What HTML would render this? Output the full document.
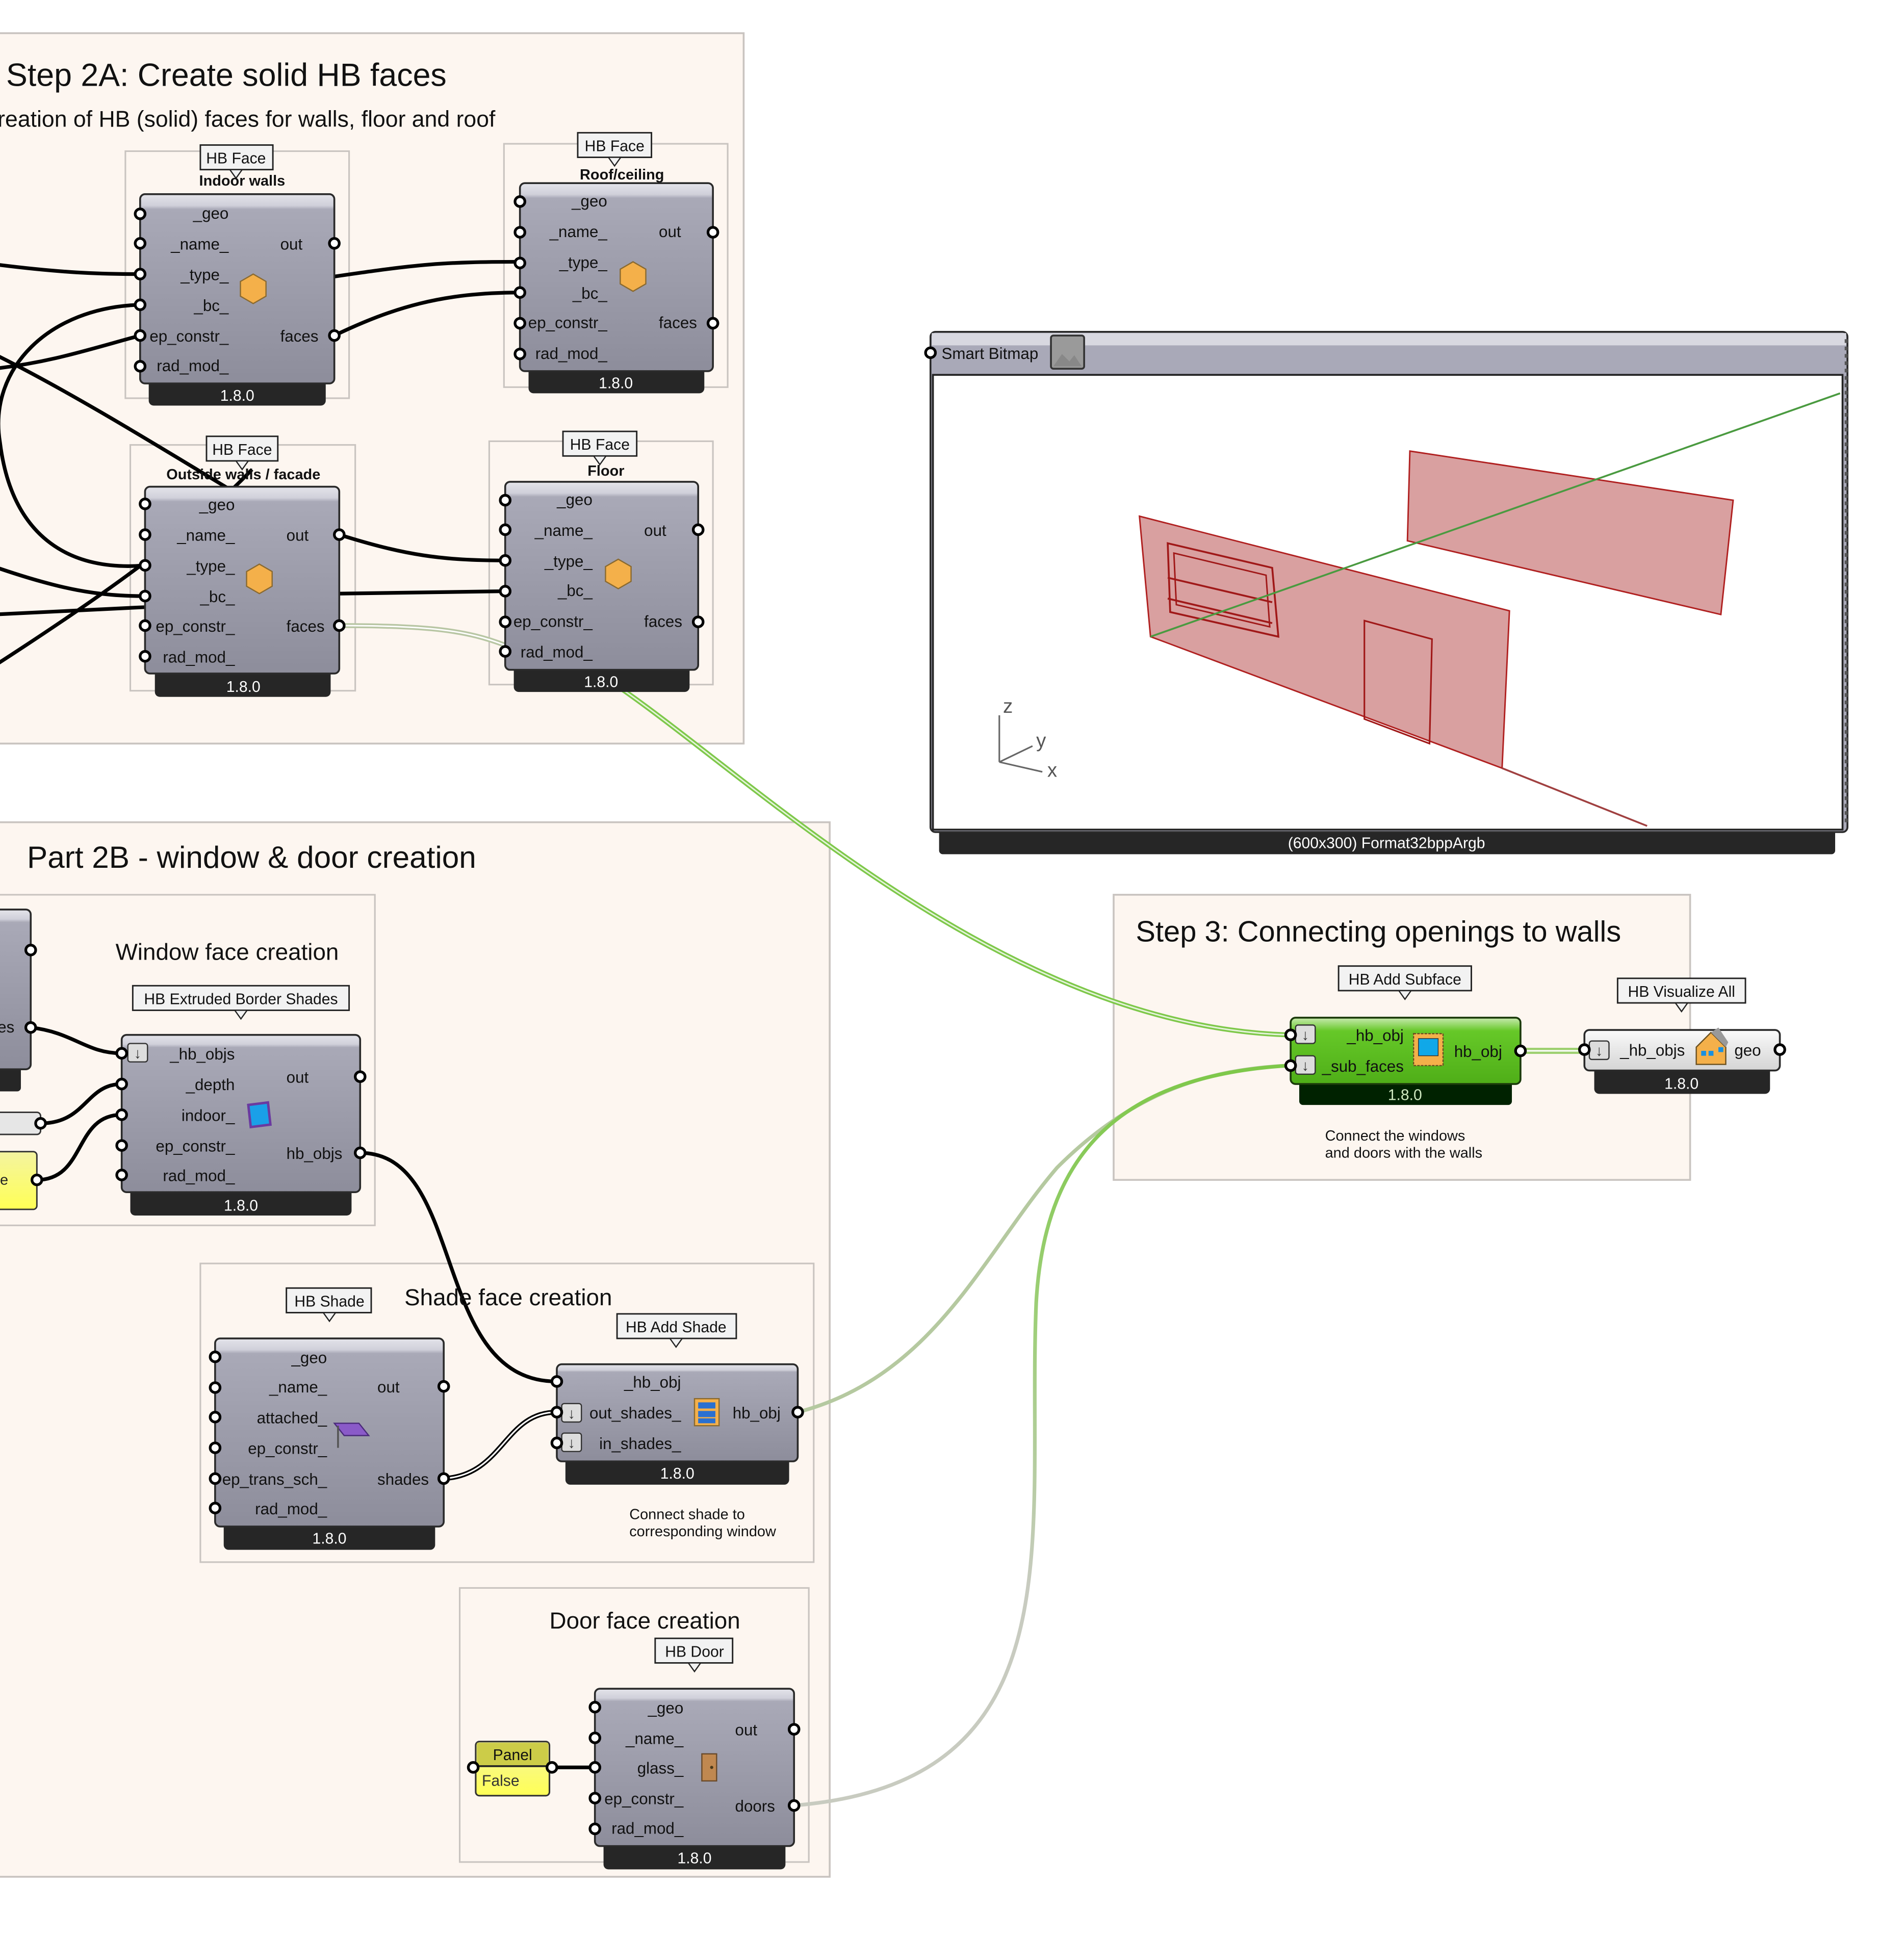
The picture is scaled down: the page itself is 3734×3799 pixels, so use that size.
<!DOCTYPE html>
<html><head><meta charset="utf-8">
<style>
html,body{margin:0;padding:0;background:#fff;}
svg{display:block;}
text{font-family:"Liberation Sans",sans-serif;}
.p{font-size:13px;fill:#111;}
.v{font-size:12.5px;fill:#fff;text-anchor:middle;}
.t{font-size:12.5px;fill:#111;text-anchor:middle;}
.b{fill:url(#ng);stroke:#2a2a2a;stroke-width:1.5;}
.bar{fill:#262626;}
.port{fill:#fff;stroke:#000;stroke-width:2.2;}
.grp{fill:#fdf6f0;stroke:#c9c4c0;stroke-width:1.5;}
.sub{fill:none;stroke:#c9c4c0;stroke-width:1.3;}
.lab{fill:#f2f2f2;stroke:#222;stroke-width:1.2;}
.w{fill:none;stroke:#000;stroke-width:3;}
</style></head><body>
<svg width="3734" height="3799" viewBox="0 0 1549 1576" preserveAspectRatio="none" xmlns="http://www.w3.org/2000/svg">
<defs>
<linearGradient id="ng" x1="0" y1="0" x2="0" y2="1">
<stop offset="0" stop-color="#e4e4ea"/><stop offset="0.06" stop-color="#d0d0da"/><stop offset="0.08" stop-color="#a9a9b7"/><stop offset="1" stop-color="#8d8d9b"/>
</linearGradient>
<linearGradient id="gg" x1="0" y1="0" x2="0" y2="1">
<stop offset="0" stop-color="#c8eab0"/><stop offset="0.2" stop-color="#66c828"/><stop offset="1" stop-color="#4fae18"/>
</linearGradient>
<linearGradient id="wg" x1="0" y1="0" x2="0" y2="1">
<stop offset="0" stop-color="#fafafa"/><stop offset="1" stop-color="#d4d4d4"/>
</linearGradient>
<linearGradient id="pg" x1="0" y1="0" x2="0" y2="1">
<stop offset="0" stop-color="#f4f4a0"/><stop offset="1" stop-color="#ffff55"/>
</linearGradient>
<linearGradient id="dw" gradientUnits="userSpaceOnUse" x1="0" y1="870" x2="0" y2="1470">
<stop offset="0" stop-color="#7ec84a"/><stop offset="0.35" stop-color="#9fcf7a"/><stop offset="0.7" stop-color="#c8cbc0"/><stop offset="1" stop-color="#c8cbc0"/>
</linearGradient>
<g id="hex"><polygon points="0,-12 10.4,-6 10.4,6 0,12 -10.4,6 -10.4,-6" fill="#f4b04a" stroke="#8a6a30" stroke-width="1"/></g>
</defs>
<rect width="1549" height="1576" fill="#fff"/>

<rect class="grp" x="-5" y="27" width="610" height="578"/>
<text x="5" y="70" font-size="26" fill="#111">Step 2A: Create solid HB faces</text>
<text x="-2" y="103" font-size="18.5" fill="#111">reation of HB (solid) faces for walls, floor and roof</text>

<rect class="grp" x="-5" y="669" width="680" height="858"/>
<text x="22" y="706" font-size="25" fill="#111">Part 2B - window &amp; door creation</text>

<rect class="grp" x="906" y="728" width="469" height="232"/>
<text x="924" y="766" font-size="24" fill="#111">Step 3: Connecting openings to walls</text>

<rect class="sub" x="102" y="123" width="182" height="201"/>
<rect class="sub" x="410" y="117" width="182" height="198"/>
<rect class="sub" x="106" y="362" width="183" height="200"/>
<rect class="sub" x="398" y="359" width="182" height="198"/>
<rect class="sub" x="-5" y="728" width="310" height="269"/>
<rect class="sub" x="163" y="1028" width="499" height="243"/>
<rect class="sub" x="374" y="1292" width="284" height="223"/>

<path d="M505,560 C620,640 820,835 1048,842" fill="none" stroke="#7ec84a" stroke-width="4"/>
<path d="M505,560 C620,640 820,835 1048,842" fill="none" stroke="#fff" stroke-width="1.2" opacity="0.8"/>
<path d="M276,509 C350,509 380,513 411,525" fill="none" stroke="#b8c6a4" stroke-width="4"/>
<path d="M276,509 C350,509 380,513 411,525" fill="none" stroke="#fff" stroke-width="1.2"/>
<path d="M649,1149 C760,1120 800,1020 860,950 C920,890 980,870 1048,867" fill="none" stroke="#b5c9a0" stroke-width="3"/>
<path d="M646,1469 C880,1450 835,1250 843,1060 C850,930 920,875 1048,867" fill="none" stroke="url(#dw)" stroke-width="3"/>
<path d="M1237,855 L1289,855" fill="none" stroke="#9ed070" stroke-width="5"/>
<path d="M1237,855 L1289,855" fill="none" stroke="#fff" stroke-width="1.2"/>

<path class="w" d="M-5,215 C50,222 80,223 114,223"/>
<path class="w" d="M114,248 C40,250 -10,300 0,360 C10,440 60,465 118,460"/>
<path class="w" d="M114,273 C70,285 40,295 -5,300"/>
<path class="w" d="M-5,288 C60,320 140,370 190,400"/>
<path class="w" d="M205,382 C150,440 60,500 -5,542"/>
<path class="w" d="M-5,461 C50,480 80,485 118,485"/>
<path class="w" d="M-5,500 L118,494"/>
<path class="w" d="M272,225 C340,215 360,213 423,213"/>
<path class="w" d="M272,273 C320,250 360,238 423,238"/>
<path class="w" d="M276,435 C330,452 360,456 411,456"/>
<path class="w" d="M276,483 L411,481"/>

<path class="w" d="M25,836 C60,840 70,857 99,857"/>
<path class="w" d="M33,914 C70,914 70,882 99,882"/>
<path class="w" d="M30,960 C70,960 60,907 99,907"/>
<path class="w" d="M293,938 C380,938 350,1124 453,1124"/>
<path d="M361,1203 C410,1200 410,1149 453,1149" fill="none" stroke="#000" stroke-width="4"/>
<path d="M361,1203 C410,1200 410,1149 453,1149" fill="none" stroke="#fff" stroke-width="1.3"/>
<path class="w" d="M449,1438 L484,1438"/>

<rect class="lab" x="163" y="118" width="59" height="20"/><polygon points="187,138 197,138 192,145" fill="#f2f2f2" stroke="#222"/>
<text class="t" x="192" y="133">HB Face</text>
<text x="197" y="151" font-size="12" font-weight="bold" text-anchor="middle" fill="#111">Indoor walls</text>
<rect class="bar" x="121" y="305" width="144" height="25" rx="4"/><text class="v" x="193" y="326">1.8.0</text>
<rect class="b" x="114" y="158" width="158" height="154" rx="4"/>
<g class="p" text-anchor="end"><text x="186" y="178">_geo</text><text x="186" y="203">_name_</text><text x="186" y="228">_type_</text><text x="186" y="253">_bc_</text><text x="186" y="278">ep_constr_</text><text x="186" y="302">rad_mod_</text></g>
<g class="p"><text x="228" y="203">out</text><text x="228" y="278">faces</text></g>
<use href="#hex" x="206" y="235"/>
<g class="port"><circle cx="114" cy="174" r="4"/><circle cx="114" cy="198" r="4"/><circle cx="114" cy="223" r="4"/><circle cx="114" cy="248" r="4"/><circle cx="114" cy="273" r="4"/><circle cx="114" cy="298" r="4"/><circle cx="272" cy="198" r="4"/><circle cx="272" cy="273" r="4"/></g>

<rect class="lab" x="470" y="108" width="60" height="20"/><polygon points="495,128 505,128 500,135" fill="#f2f2f2" stroke="#222"/>
<text class="t" x="500" y="123">HB Face</text>
<text x="506" y="146" font-size="12" font-weight="bold" text-anchor="middle" fill="#111">Roof/ceiling</text>
<rect class="bar" x="430" y="295" width="143" height="25" rx="4"/><text class="v" x="501" y="316">1.8.0</text>
<rect class="b" x="423" y="149" width="157" height="153" rx="4"/>
<g class="p" text-anchor="end"><text x="494" y="168">_geo</text><text x="494" y="193">_name_</text><text x="494" y="218">_type_</text><text x="494" y="243">_bc_</text><text x="494" y="267">ep_constr_</text><text x="494" y="292">rad_mod_</text></g>
<g class="p"><text x="536" y="193">out</text><text x="536" y="267">faces</text></g>
<use href="#hex" x="515" y="225"/>
<g class="port"><circle cx="423" cy="164" r="4"/><circle cx="423" cy="189" r="4"/><circle cx="423" cy="214" r="4"/><circle cx="423" cy="238" r="4"/><circle cx="423" cy="263" r="4"/><circle cx="423" cy="288" r="4"/><circle cx="580" cy="189" r="4"/><circle cx="580" cy="263" r="4"/></g>

<rect class="bar" x="126" y="541" width="143" height="26" rx="4"/><text class="v" x="198" y="563">1.8.0</text>
<rect class="b" x="118" y="396" width="158" height="152" rx="4"/>
<rect class="lab" x="168" y="355" width="58" height="20"/><polygon points="192,375 202,375 197,382" fill="#f2f2f2" stroke="#222"/>
<text class="t" x="197" y="370">HB Face</text>
<text x="198" y="390" font-size="12" font-weight="bold" text-anchor="middle" fill="#111">Outside walls / facade</text>
<g class="p" text-anchor="end"><text x="191" y="415">_geo</text><text x="191" y="440">_name_</text><text x="191" y="465">_type_</text><text x="191" y="490">_bc_</text><text x="191" y="514">ep_constr_</text><text x="191" y="539">rad_mod_</text></g>
<g class="p"><text x="233" y="440">out</text><text x="233" y="514">faces</text></g>
<use href="#hex" x="211" y="471"/>
<g class="port"><circle cx="118" cy="410" r="4"/><circle cx="118" cy="435" r="4"/><circle cx="118" cy="460" r="4"/><circle cx="118" cy="485" r="4"/><circle cx="118" cy="509" r="4"/><circle cx="118" cy="534" r="4"/><circle cx="276" cy="435" r="4"/><circle cx="276" cy="509" r="4"/></g>

<rect class="lab" x="458" y="351" width="60" height="20"/><polygon points="483,371 493,371 488,378" fill="#f2f2f2" stroke="#222"/>
<text class="t" x="488" y="366">HB Face</text>
<text x="493" y="387" font-size="12" font-weight="bold" text-anchor="middle" fill="#111">Floor</text>
<rect class="bar" x="418" y="538" width="143" height="25" rx="4"/><text class="v" x="489" y="559">1.8.0</text>
<rect class="b" x="411" y="392" width="157" height="153" rx="4"/>
<g class="p" text-anchor="end"><text x="482" y="411">_geo</text><text x="482" y="436">_name_</text><text x="482" y="461">_type_</text><text x="482" y="485">_bc_</text><text x="482" y="510">ep_constr_</text><text x="482" y="535">rad_mod_</text></g>
<g class="p"><text x="524" y="436">out</text><text x="524" y="510">faces</text></g>
<use href="#hex" x="503" y="467"/>
<g class="port"><circle cx="411" cy="407" r="4"/><circle cx="411" cy="431" r="4"/><circle cx="411" cy="456" r="4"/><circle cx="411" cy="481" r="4"/><circle cx="411" cy="506" r="4"/><circle cx="411" cy="530" r="4"/><circle cx="568" cy="431" r="4"/><circle cx="568" cy="506" r="4"/></g>

<rect x="764" y="670" width="729" height="25" rx="3" fill="#262626"/>
<text x="1128" y="690" font-size="12.5" fill="#fff" text-anchor="middle">(600x300) Format32bppArgb</text>
<rect x="757" y="270" width="746" height="407" rx="4" fill="#a9a9b8" stroke="#2a2a2a" stroke-width="1.5"/>
<rect x="758" y="271" width="744" height="10" fill="#d8d8e0"/>
<text x="766" y="292" font-size="13" fill="#111">Smart Bitmap</text>
<rect x="855" y="273" width="27" height="27" rx="2" fill="#9a9a9a" stroke="#333" stroke-width="1.5"/>
<polygon points="857,298 864,288 870,294 874,289 880,298" fill="#888"/>
<rect x="759" y="305" width="740" height="370" fill="#fff" stroke="#222" stroke-width="1.5"/>
<line x1="1502" y1="276" x2="1502" y2="672" stroke="#555" stroke-width="2.5" stroke-dasharray="3,3"/>
<circle class="port" cx="757" cy="287" r="4"/>
<polygon points="1147,367 1410,407 1400,500 1145,440" fill="#d9a0a0" stroke="#b02020" stroke-width="1.2"/>
<polygon points="927,420 1228,497 1222,625 936,518" fill="#d9a0a0" stroke="#b02020" stroke-width="1.2"/>
<polygon points="950,442 1035,462 1040,518 952,498" fill="none" stroke="#a01818" stroke-width="1.5"/>
<polygon points="955,450 1030,468 1033,510 957,492" fill="none" stroke="#a01818" stroke-width="1.2"/>
<line x1="950" y1="470" x2="1035" y2="490" stroke="#a01818" stroke-width="1.5"/>
<line x1="950" y1="487" x2="1035" y2="507" stroke="#a01818" stroke-width="1.5"/>
<polygon points="1110,505 1165,520 1163,605 1110,585" fill="none" stroke="#a01818" stroke-width="1.3"/>
<line x1="936" y1="518" x2="1497" y2="320" stroke="#4a9a40" stroke-width="1.5"/>
<line x1="1222" y1="625" x2="1340" y2="672" stroke="#a04040" stroke-width="1.5"/>
<g stroke="#666" stroke-width="1.3"><line x1="813" y1="620" x2="813" y2="582"/><line x1="813" y1="620" x2="840" y2="607"/><line x1="813" y1="620" x2="848" y2="628"/></g>
<g font-size="16" fill="#555"><text x="816" y="580">z</text><text x="843" y="608">y</text><text x="852" y="632">x</text></g>

<rect class="bar" x="-5" y="866" width="22" height="22" rx="3"/>
<rect class="b" x="-10" y="740" width="35" height="130" rx="4"/>
<text class="p" x="-2" y="840">es</text>
<circle class="port" cx="25" cy="773" r="4"/><circle class="port" cx="25" cy="836" r="4"/>
<rect x="-5" y="905" width="38" height="18" rx="3" fill="#e6e6e6" stroke="#333" stroke-width="1.2"/>
<circle class="port" cx="33" cy="914" r="4"/>
<rect x="-5" y="937" width="35" height="47" rx="3" fill="url(#pg)" stroke="#333" stroke-width="1.2"/>
<text x="0" y="964" font-size="12" fill="#222" font-family="Liberation Mono,monospace">e</text>
<circle class="port" cx="30" cy="960" r="4"/>

<text x="94" y="781" font-size="19" fill="#111">Window face creation</text>
<rect class="lab" x="108" y="802" width="176" height="20"/><polygon points="191,822 201,822 196,829" fill="#f2f2f2" stroke="#222"/>
<text class="t" x="196" y="817">HB Extruded Border Shades</text>
<rect class="bar" x="106" y="963" width="180" height="26" rx="4"/><text class="v" x="196" y="985">1.8.0</text>
<rect class="b" x="99" y="842" width="194" height="128" rx="4"/>
<rect x="104" y="849" width="16" height="15" rx="2" fill="#ddd" stroke="#333"/><text x="112" y="861" font-size="12" text-anchor="middle" fill="#333">↓</text>
<g class="p" text-anchor="end"><text x="191" y="862">_hb_objs</text><text x="191" y="887">_depth</text><text x="191" y="912">indoor_</text><text x="191" y="937">ep_constr_</text><text x="191" y="961">rad_mod_</text></g>
<g class="p"><text x="233" y="881">out</text><text x="233" y="943">hb_objs</text></g>
<polygon points="202,899 218,897 220,915 204,917" fill="#1aa0e8" stroke="#6a3aa0" stroke-width="2"/>
<g class="port"><circle cx="99" cy="857" r="4"/><circle cx="99" cy="882" r="4"/><circle cx="99" cy="907" r="4"/><circle cx="99" cy="932" r="4"/><circle cx="99" cy="956" r="4"/><circle cx="293" cy="876" r="4"/><circle cx="293" cy="938" r="4"/></g>

<text x="329" y="1062" font-size="19" fill="#111">Shade face creation</text>
<rect class="lab" x="233" y="1048" width="69" height="20"/><polygon points="263,1068 273,1068 268,1075" fill="#f2f2f2" stroke="#222"/>
<text class="t" x="268" y="1063">HB Shade</text>
<rect class="bar" x="182" y="1235" width="172" height="26" rx="4"/><text class="v" x="268" y="1256">1.8.0</text>
<rect class="b" x="175" y="1089" width="186" height="153" rx="4"/>
<g class="p" text-anchor="end"><text x="266" y="1109">_geo</text><text x="266" y="1133">_name_</text><text x="266" y="1158">attached_</text><text x="266" y="1183">ep_constr_</text><text x="266" y="1208">ep_trans_sch_</text><text x="266" y="1232">rad_mod_</text></g>
<g class="p"><text x="307" y="1133">out</text><text x="307" y="1208">shades</text></g>
<polygon points="272,1158 292,1158 300,1168 280,1168" fill="#8a5ac8" stroke="#4a2a7a"/><line x1="275" y1="1160" x2="275" y2="1178" stroke="#555" stroke-width="1.5"/>
<g class="port"><circle cx="175" cy="1104" r="4"/><circle cx="175" cy="1129" r="4"/><circle cx="175" cy="1153" r="4"/><circle cx="175" cy="1178" r="4"/><circle cx="175" cy="1203" r="4"/><circle cx="175" cy="1227" r="4"/><circle cx="361" cy="1128" r="4"/><circle cx="361" cy="1203" r="4"/></g>

<rect class="lab" x="502" y="1069" width="97" height="20"/><polygon points="545,1089 555,1089 550,1096" fill="#f2f2f2" stroke="#222"/>
<text class="t" x="550" y="1084">HB Add Shade</text>
<rect class="bar" x="460" y="1182" width="182" height="26" rx="4"/><text class="v" x="551" y="1203">1.8.0</text>
<rect class="b" x="453" y="1110" width="196" height="79" rx="4"/>
<rect x="457" y="1142" width="16" height="15" rx="2" fill="#ddd" stroke="#333"/><text x="465" y="1154" font-size="12" text-anchor="middle" fill="#333">↓</text>
<rect x="457" y="1166" width="16" height="15" rx="2" fill="#ddd" stroke="#333"/><text x="465" y="1178" font-size="12" text-anchor="middle" fill="#333">↓</text>
<g class="p" text-anchor="end"><text x="554" y="1129">_hb_obj</text><text x="554" y="1154">out_shades_</text><text x="554" y="1179">in_shades_</text></g>
<text class="p" x="596" y="1154">hb_obj</text>
<rect x="565" y="1138" width="20" height="22" fill="#f4b04a" stroke="#8a6a30"/><rect x="568" y="1141" width="14" height="5" fill="#2a70d0"/><rect x="568" y="1148" width="14" height="5" fill="#2a70d0"/><rect x="568" y="1154" width="14" height="4" fill="#2a70d0"/>
<g class="port"><circle cx="453" cy="1124" r="4"/><circle cx="453" cy="1149" r="4"/><circle cx="453" cy="1174" r="4"/><circle cx="649" cy="1149" r="4"/></g>
<text x="512" y="1236" font-size="12" fill="#111">Connect shade to</text>
<text x="512" y="1250" font-size="12" fill="#111">corresponding window</text>

<text x="447" y="1325" font-size="19" fill="#111">Door face creation</text>
<rect class="lab" x="533" y="1333" width="63" height="20"/><polygon points="560,1353 570,1353 565,1360" fill="#f2f2f2" stroke="#222"/>
<text class="t" x="565" y="1348">HB Door</text>
<rect class="bar" x="491" y="1495" width="148" height="26" rx="4"/><text class="v" x="565" y="1516">1.8.0</text>
<rect class="b" x="484" y="1374" width="162" height="128" rx="4"/>
<g class="p" text-anchor="end"><text x="556" y="1394">_geo</text><text x="556" y="1419">_name_</text><text x="556" y="1443">glass_</text><text x="556" y="1468">ep_constr_</text><text x="556" y="1492">rad_mod_</text></g>
<g class="p"><text x="598" y="1412">out</text><text x="598" y="1474">doors</text></g>
<rect x="571" y="1427" width="12" height="22" fill="#c08850" stroke="#6a4a2a"/><circle cx="579" cy="1438" r="1.3" fill="#4a3a1a"/>
<g class="port"><circle cx="484" cy="1389" r="4"/><circle cx="484" cy="1414" r="4"/><circle cx="484" cy="1438" r="4"/><circle cx="484" cy="1463" r="4"/><circle cx="484" cy="1488" r="4"/><circle cx="646" cy="1407" r="4"/><circle cx="646" cy="1469" r="4"/></g>
<rect x="387" y="1417" width="60" height="44" rx="3" fill="url(#pg)" stroke="#333" stroke-width="1.3"/>
<rect x="388" y="1418" width="58" height="19" fill="#cccc48"/>
<line x1="387" y1="1437" x2="447" y2="1437" stroke="#222" stroke-width="1.5"/>
<text x="417" y="1432" font-size="12.5" text-anchor="middle" fill="#111">Panel</text>
<text x="392" y="1453" font-size="12.5" fill="#333" font-family="Liberation Mono,monospace">False</text>
<circle class="port" cx="385" cy="1438" r="4"/><circle class="port" cx="449" cy="1438" r="4"/>

<rect class="lab" x="1089" y="786" width="108" height="20"/><polygon points="1138,806 1148,806 1143,813" fill="#f2f2f2" stroke="#222"/>
<text class="t" x="1143" y="801">HB Add Subface</text>
<rect x="1057" y="876" width="173" height="23" rx="3" fill="#002200"/><text x="1143" y="895" font-size="12.5" fill="#cfe8c0" text-anchor="middle">1.8.0</text>
<rect x="1050" y="828" width="187" height="54" rx="4" fill="url(#gg)" stroke="#1a3a0a" stroke-width="1.5"/>
<rect x="1054" y="834" width="16" height="15" rx="2" fill="#ddd" stroke="#333"/><text x="1062" y="846" font-size="12" text-anchor="middle" fill="#333">↓</text>
<rect x="1054" y="859" width="16" height="15" rx="2" fill="#ddd" stroke="#333"/><text x="1062" y="871" font-size="12" text-anchor="middle" fill="#333">↓</text>
<g class="p" text-anchor="end"><text x="1142" y="847">_hb_obj</text><text x="1142" y="872">_sub_faces</text></g>
<text class="p" x="1183" y="860">hb_obj</text>
<rect x="1150" y="841" width="24" height="26" fill="#f4b04a" stroke="#6a5020" stroke-dasharray="2,1"/><rect x="1154" y="845" width="16" height="14" fill="#10a8e8" stroke="#333" stroke-width="0.6"/>
<g class="port"><circle cx="1050" cy="842" r="4"/><circle cx="1050" cy="867" r="4"/><circle cx="1237" cy="855" r="4"/></g>
<text x="1078" y="928" font-size="12" fill="#111">Connect the windows</text>
<text x="1078" y="942" font-size="12" fill="#111">and doors with the walls</text>

<rect class="lab" x="1316" y="796" width="104" height="20"/><polygon points="1363,816 1373,816 1368,823" fill="#f2f2f2" stroke="#222"/>
<text class="t" x="1368" y="811">HB Visualize All</text>
<rect class="bar" x="1297" y="865" width="143" height="25" rx="4" fill="#333"/><text class="v" x="1368" y="886">1.8.0</text>
<rect x="1289" y="838" width="159" height="33" rx="4" fill="url(#wg)" stroke="#2a2a2a" stroke-width="1.5"/>
<rect x="1293" y="847" width="16" height="15" rx="2" fill="#ddd" stroke="#333"/><text x="1301" y="859" font-size="12" text-anchor="middle" fill="#333">↓</text>
<text class="p" x="1318" y="859">_hb_objs</text>
<text class="p" x="1411" y="859">geo</text>
<polygon points="1380,852 1392,840 1404,852 1404,866 1380,866" fill="#f4b04a" stroke="#6a5020"/>
<polygon points="1392,840 1398,836 1406,848 1404,852" fill="#999"/>
<g fill="#1a90e0"><rect x="1384" y="855" width="4" height="4"/><rect x="1390" y="855" width="4" height="4"/><rect x="1398" y="852" width="4" height="4"/></g>
<g class="port"><circle cx="1289" cy="854" r="4"/><circle cx="1448" cy="854" r="4"/></g>
</svg>
</body></html>
